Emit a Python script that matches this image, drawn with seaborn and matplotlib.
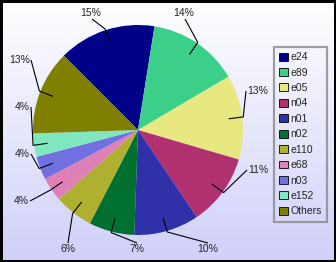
import numpy as np
import matplotlib
matplotlib.use("Agg")
import matplotlib.pyplot as plt
from matplotlib.patches import Patch, Rectangle
import seaborn as sns

# ---- data ----
categories = ["e24", "e89", "e05", "n04", "n01", "n02", "e110", "e68", "n03", "e152", "Others"]
values = [15.0, 14.0, 13.0, 11.0, 10.0, 7.0, 6.0, 3.7, 3.6, 3.6, 13.0]
pct_labels = ["15%", "14%", "13%", "11%", "10%", "7%", "6%", "4%", "4%", "4%", "13%"]
colors = ["#000088", "#3ccf8a", "#e8e880", "#b03070", "#3030a8", "#007030",
          "#b0b030", "#e080b8", "#7070e0", "#80e8c0", "#808000"]

# ---- layout (pixel coords, y down) ----
W, H = 336, 262
CX, CY, R = 138, 130, 105
START = 135
# label anchor points (end of leader line) and side of text
label_anchor = [(92, 19), (185, 19), (246, 91), (247, 170), (208, 243), (137, 243),
                (68, 243), (30, 201), (31, 154), (31, 107), (31, 60)]
label_side = ["top", "top", "right", "right", "bottom", "bottom", "bottom",
              "left", "left", "left", "left"]

sns.set_style("white")
plt.rcParams["font.family"] = ["Liberation Sans", "DejaVu Sans"]

fig = plt.figure(figsize=(W / 100, H / 100), dpi=100)
ax = fig.add_axes([0, 0, 1, 1])

# background gradient
grad = np.linspace(0, 1, 256)[:, None]
top = np.array([1.0, 1.0, 1.0])
bot = np.array([208, 208, 250]) / 255.0
img = top[None, None, :] * (1 - grad[:, :, None]) + bot[None, None, :] * grad[:, :, None]
ax.imshow(img, extent=[0, W, 0, H], aspect="auto", zorder=0, origin="upper")

pal = sns.color_palette(colors)
wedges, _ = ax.pie(values, colors=pal, startangle=START, counterclock=False,
                   center=(CX, H - CY), radius=R, frame=True,
                   wedgeprops=dict(linewidth=0, zorder=2))
for w in wedges:
    w.set_zorder(2)

tot = sum(values)
cum = 0.0
for i, v in enumerate(values):
    f = v / tot
    th = np.deg2rad(START - 360 * (cum + f / 2))
    cum += f
    inner = (CX + 0.87 * R * np.cos(th), H - CY + 0.87 * R * np.sin(th))
    elbow = (CX + 1.01 * R * np.cos(th), H - CY + 1.01 * R * np.sin(th))
    ex, ey = label_anchor[i][0], H - label_anchor[i][1]
    ax.plot([inner[0], elbow[0], ex], [inner[1], elbow[1], ey], color="black",
            lw=0.8, zorder=3, solid_capstyle="butt")
    side = label_side[i]
    if side == "top":
        ax.text(ex - 1, ey + 1, pct_labels[i], ha="center", va="bottom", fontsize=7.5, color="#222222", zorder=4)
    elif side == "bottom":
        ax.text(ex, ey - 1, pct_labels[i], ha="center", va="top", fontsize=7.5, color="#222222", zorder=4)
    elif side == "left":
        ax.text(ex - 1, ey, pct_labels[i], ha="right", va="center", fontsize=7.5, color="#222222", zorder=4)
    else:
        ax.text(ex + 1, ey, pct_labels[i], ha="left", va="center", fontsize=7.5, color="#222222", zorder=4)

ax.set_xlim(0, W)
ax.set_ylim(0, H)
ax.set_aspect("auto")
ax.axis("off")

handles = [Patch(facecolor=c, edgecolor="black", linewidth=0.6) for c in pal]
leg = ax.legend(handles, categories, loc="upper left",
                bbox_to_anchor=(274 / W, 1 - 47 / H), bbox_transform=fig.transFigure,
                fontsize=7.5, frameon=True, fancybox=False, borderpad=0.5,
                handlelength=0.8, handleheight=0.8, handletextpad=0.25,
                labelspacing=0.52, borderaxespad=0)
fr = leg.get_frame()
fr.set_facecolor("none")
fr.set_edgecolor("#888888")
fr.set_linewidth(1.6)
for t in leg.get_texts():
    t.set_color("#222222")

fig.patches.append(Rectangle((0, 0), 1, 1, transform=fig.transFigure, fill=False,
                             edgecolor="black", linewidth=3.6, zorder=10))

fig.savefig("out.png", dpi=100)
